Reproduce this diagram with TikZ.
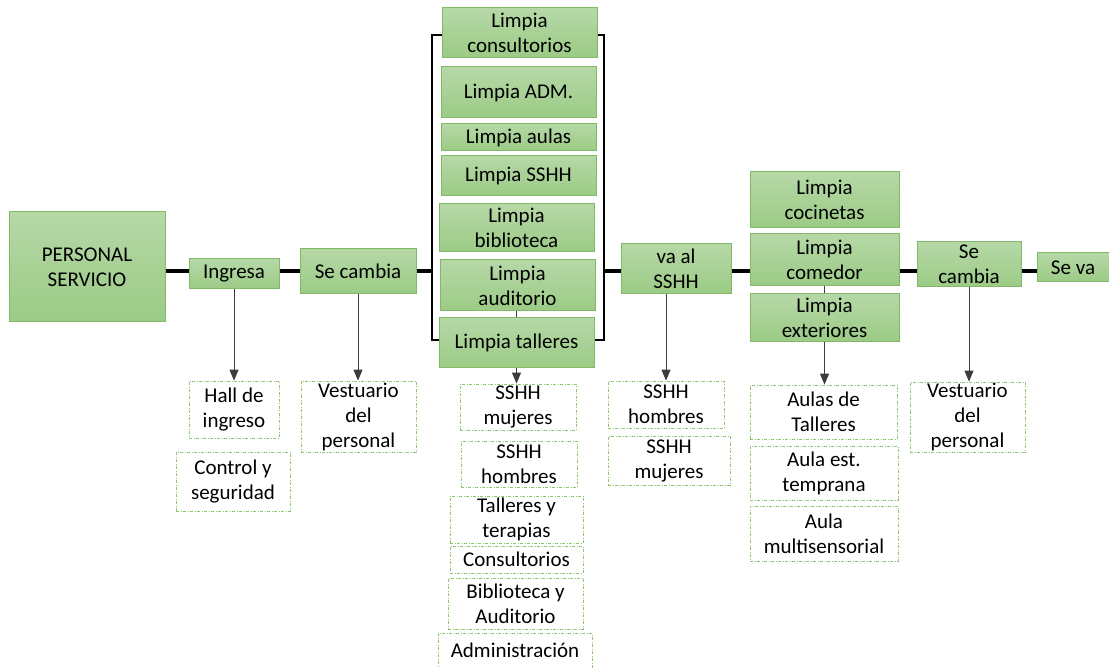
\documentclass[tikz,border=0pt]{standalone}
\usepackage{fontspec}
\setmainfont{Carlito}
\usetikzlibrary{arrows.meta}
\definecolor{boxtop}{RGB}{182,216,167}
\definecolor{boxbot}{RGB}{155,203,133}
\definecolor{boxline}{RGB}{130,185,102}
\definecolor{dashline}{RGB}{140,198,112}
\definecolor{arrowgray}{RGB}{60,60,60}
\tikzset{
  act/.style={draw=boxline,line width=1pt,top color=boxtop,bottom color=boxbot,
    inner sep=0pt,align=center},
  place/.style={draw=dashline,line width=0.8pt,dash pattern=on 3pt off 1.5pt on 1pt off 1.5pt,
    fill=white,inner sep=0pt,align=center},
  trunk/.style={line width=4pt},
  bracket/.style={line width=2.5pt},
  down/.style={arrowgray,line width=0.9pt,-{Triangle[width=9pt,length=11pt]}},
  tick/.style={arrowgray,line width=0.6pt}
}
\begin{document}
\begin{tikzpicture}[x=1pt,y=-1pt,font=\fontsize{21}{25}\selectfont]
    \useasboundingbox (0,0) rectangle (1109,668);
    \coordinate (spine) at (0,271);
    \coordinate (bl) at (432,340);
    \coordinate (tr) at (604,35);
    \draw[bracket] (bl) rectangle (tr);
    %
    \node[act,minimum width=156pt,minimum height=110pt] (pers) at (87,267) {PERSONAL\\SERVICIO};
    \node[act,minimum width=90pt,minimum height=30pt] (ingresa) at (234,274) {Ingresa};
    \node[act,minimum width=116pt,minimum height=45pt] (cambia1) at (358,271.5) {Se cambia};
    %
    \node[act,minimum width=155pt,minimum height=50pt] (lconsul) at (519.5,33) {Limpia\\consultorios};
    \node[act,minimum width=155pt,minimum height=51pt] (ladm) at (518.5,92.5) {Limpia ADM.};
    \node[act,minimum width=155pt,minimum height=27pt] (laulas) at (518.5,137.5) {Limpia aulas};
    \node[act,minimum width=155pt,minimum height=40pt] (lsshh) at (518.5,176) {Limpia SSHH};
    \node[act,minimum width=155pt,minimum height=48pt] (lbiblio) at (516.5,228) {Limpia\\biblioteca};
    \node[act,minimum width=155pt,minimum height=51pt] (laudit) at (517.5,285.5) {Limpia\\auditorio};
    \node[act,minimum width=155pt,minimum height=50pt] (ltaller) at (516.5,343) {Limpia talleres};
    %
    \node[act,minimum width=110pt,minimum height=50pt] (vassh) at (676,269) {va al\\SSHH};
    \node[act,minimum width=149pt,minimum height=56pt] (lcocin) at (824.5,200) {Limpia\\cocinetas};
    \node[act,minimum width=149pt,minimum height=52pt] (lcomed) at (824.5,260) {Limpia\\comedor};
    \node[act,minimum width=149pt,minimum height=48pt] (lexter) at (824.5,318) {Limpia\\exteriores};
    \node[act,minimum width=104pt,minimum height=45pt] (cambia2) at (969,264.5) {Se\\cambia};
    \node[act,minimum width=72pt,minimum height=29pt] (seva) at (1073,267.5) {Se va};
    %
    \node[place,minimum width=90pt,minimum height=57pt] (hall) at (234,409.5) {Hall de\\ingreso};
    \node[place,minimum width=114pt,minimum height=59pt] (control) at (233,481.5) {Control y\\seguridad};
    \node[place,minimum width=115pt,minimum height=71pt] (vest1) at (358.5,416.5) {Vestuario\\del\\personal};
    \node[place,minimum width=116pt,minimum height=46pt] (smuj1) at (518,407) {SSHH\\mujeres};
    \node[place,minimum width=116pt,minimum height=46pt] (shom1) at (519,464) {SSHH\\hombres};
    \node[place,minimum width=133pt,minimum height=47pt] (talleres) at (516.5,519.5) {Talleres y\\terapias};
    \node[place,minimum width=133pt,minimum height=27pt] (consul) at (516.5,559.5) {Consultorios};
    \node[place,minimum width=135pt,minimum height=51pt] (biblio) at (515.5,603.5) {Biblioteca y\\Auditorio};
    \node[place,minimum width=154pt,minimum height=35pt] (admin) at (515,650.5) {Administración};
    \node[place,minimum width=116pt,minimum height=47pt] (shom2) at (666,404.5) {SSHH\\hombres};
    \node[place,minimum width=122pt,minimum height=49pt] (smuj2) at (669,460.5) {SSHH\\mujeres};
    \node[place,minimum width=147pt,minimum height=54pt] (aulatal) at (823.5,412) {Aulas de\\Talleres};
    \node[place,minimum width=148pt,minimum height=54pt] (aulaest) at (824,473) {Aula est.\\temprana};
    \node[place,minimum width=148pt,minimum height=55pt] (aulamul) at (824,533.5) {Aula\\multisensorial};
    \node[place,minimum width=115pt,minimum height=70pt] (vest2) at (967.5,417) {Vestuario\\del\\personal};
    %
    \draw[trunk] (pers.east |- spine) -- (ingresa.west |- spine);
    \draw[trunk] (ingresa.east |- spine) -- (cambia1.west |- spine);
    \draw[trunk] (cambia1.east |- spine) -- (bl |- spine);
    \draw[trunk] (tr |- spine) -- (vassh.west |- spine);
    \draw[trunk] (vassh.east |- spine) -- (lcomed.west |- spine);
    \draw[trunk] (lcomed.east |- spine) -- (cambia2.west |- spine);
    \draw[trunk] (cambia2.east |- spine) -- (seva.west |- spine);
    %
    \draw[tick] (ltaller.north |- laudit.south) -- (ltaller.north);
    \draw[tick] (lcomed.south) -- (lexter.north);
    %
    \draw[down] (ingresa.south) -- (ingresa.south |- hall.north);
    \draw[down] (cambia1.south) -- (cambia1.south |- vest1.north);
    \draw[down] (ltaller.south) -- (ltaller.south |- smuj1.north);
    \draw[down] (shom2.north |- vassh.south) -- (shom2.north);
    \draw[down] (lexter.south) -- (lexter.south |- aulatal.north);
    \draw[down] (cambia2.south) -- (cambia2.south |- vest2.north);
\end{tikzpicture}
\end{document}
